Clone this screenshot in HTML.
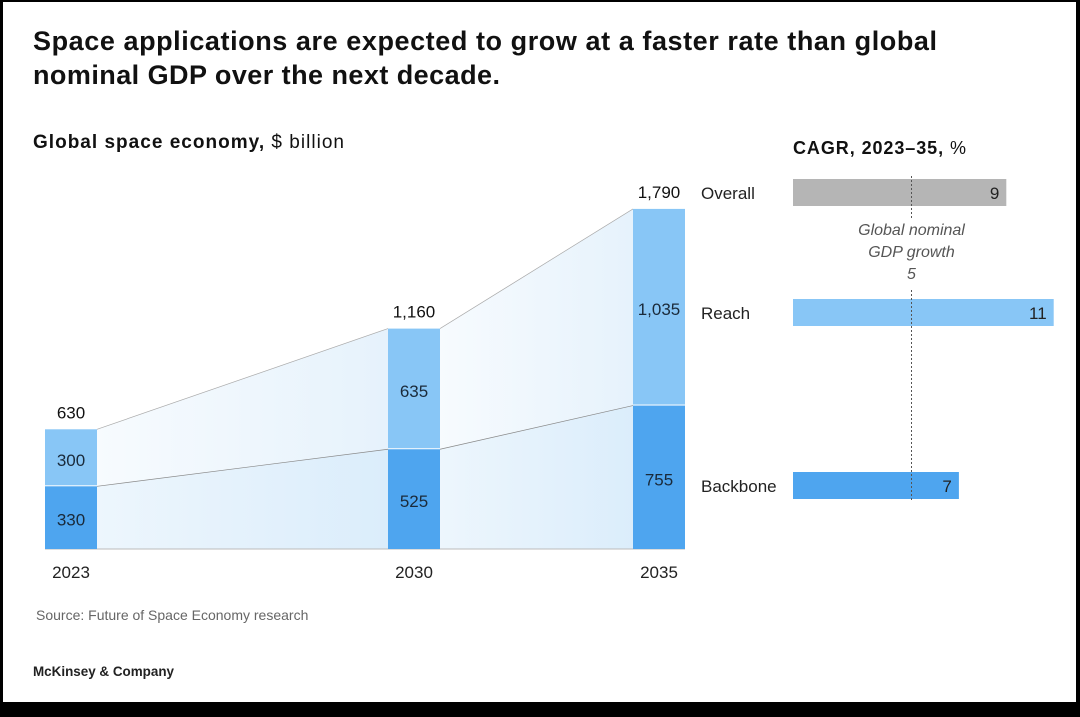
<!DOCTYPE html>
<html><head><meta charset="utf-8"><style>
html,body{margin:0;padding:0;background:#000;}
#wrap{position:absolute;left:3px;top:2px;width:1073px;height:700px;background:#fff;}
svg{position:absolute;left:0;top:0;}
text{font-family:"Liberation Sans",sans-serif;}
</style></head><body>
<div id="wrap"></div>
<svg id="chart" width="1080" height="717">
<text x="33" y="50" font-size="27" font-weight="bold" fill="#111" textLength="904" lengthAdjust="spacing">Space applications are expected to grow at a faster rate than global</text>
<text x="33" y="84" font-size="27" font-weight="bold" fill="#111" textLength="467" lengthAdjust="spacing">nominal GDP over the next decade.</text>
<text x="33" y="148" font-size="19" fill="#111" textLength="311" lengthAdjust="spacing"><tspan font-weight="bold">Global space economy,</tspan> $ billion</text>
<text x="793" y="154" font-size="18" fill="#111" textLength="173" lengthAdjust="spacing"><tspan font-weight="bold">CAGR, 2023–35,</tspan> %</text>
<text x="36" y="620" font-size="14" fill="#666">Source: Future of Space Economy research</text>
<text x="33" y="676" font-size="14" font-weight="bold" fill="#222" textLength="141" lengthAdjust="spacingAndGlyphs">McKinsey &amp; Company</text>
<g id="left"></g><g id="right"></g>
</svg>
<script>
const years = ["2023","2030","2035"];
const backbone = [330,525,755];
const reach = [300,635,1035];
const totals = [630,1160,1790];
const cagrCats = ["Overall","Reach","Backbone"];
const cagrVals = [9,11,7];
const gdpGrowth = 5;

const NS="http://www.w3.org/2000/svg";
function mk(tag,attrs,parent,txt){const e=document.createElementNS(NS,tag);for(const k in attrs)e.setAttribute(k,attrs[k]);if(txt!==undefined)e.textContent=txt;parent.appendChild(e);return e;}
const base=549, sc=0.19;
const y=v=>base-v*sc;
const barX=[45,388,633], bw=52;
const L=document.getElementById('left');
mk('defs',{},L).innerHTML='<linearGradient id="gA" x1="0" x2="1"><stop offset="0" stop-color="#f7fbfe"/><stop offset="1" stop-color="#e6f2fc"/></linearGradient><linearGradient id="gB" x1="0" x2="1"><stop offset="0" stop-color="#edf6fd"/><stop offset="1" stop-color="#dbedfb"/></linearGradient>';
for(let i=0;i<years.length-1;i++){
  const x1=barX[i]+bw,x2=barX[i+1];
  const tb1=y(backbone[i]),tb2=y(backbone[i+1]);
  const tt1=y(backbone[i]+reach[i]),tt2=y(backbone[i+1]+reach[i+1]);
  let p=mk('polygon',{points:`${x1},${tt1} ${x2},${tt2} ${x2},${tb2} ${x1},${tb1}`,fill:'url(#gA)'},L);
  
  p=mk('polygon',{points:`${x1},${tb1} ${x2},${tb2} ${x2},${base} ${x1},${base}`,fill:'url(#gB)'},L);
  
  mk('line',{x1:x1,y1:tt1,x2:x2,y2:tt2,stroke:'#aaa','stroke-width':0.7},L);
  mk('line',{x1:x1,y1:tb1,x2:x2,y2:tb2,stroke:'#888','stroke-width':0.7},L);
}
mk('line',{x1:45,y1:base,x2:685,y2:base,stroke:'#bbb','stroke-width':1},L);
years.forEach((yr,i)=>{
  const x=barX[i];
  let r=mk('rect',{x:x,y:y(backbone[i]),width:bw,height:backbone[i]*sc,fill:'#4ea5ef'},L);
  
  r=mk('rect',{x:x,y:y(backbone[i]+reach[i]),width:bw,height:reach[i]*sc-1,fill:'#88c6f6'},L);
  
  mk('text',{x:x+bw/2,y:(y(backbone[i])+base)/2+8,'font-size':17,'text-anchor':'middle',fill:'#1a2a3a'},L,String(backbone[i]));
  mk('text',{x:x+bw/2,y:(y(backbone[i])+y(backbone[i]+reach[i]))/2+8,'font-size':17,'text-anchor':'middle',fill:'#1a2a3a'},L,reach[i].toLocaleString('en-US'));
  let t=mk('text',{x:x+bw/2,y:y(totals[i])-11,'font-size':17,'text-anchor':'middle',fill:'#111'},L,totals[i].toLocaleString('en-US'));
  
  t=mk('text',{x:x+bw/2,y:578,'font-size':17,'text-anchor':'middle',fill:'#222'},L,yr);
  
});
const R=document.getElementById('right');
const x0=793, cs=23.7;
const rowY=[179,299,472], rh=27;
const cols=['#b5b5b5','#88c6f6','#4ea5ef'];
cagrCats.forEach((c,i)=>{
  let r=mk('rect',{x:x0,y:rowY[i],width:cagrVals[i]*cs,height:rh,fill:cols[i]},R);
  
  mk('text',{x:x0+cagrVals[i]*cs-7,y:rowY[i]+20,'font-size':17,'text-anchor':'end',fill:'#222'},R,String(cagrVals[i]));
  let t=mk('text',{x:701,y:rowY[i]+20,'font-size':17,fill:'#222'},R,c);
  
});
const gx=x0+gdpGrowth*cs;
let gl=mk('line',{x1:gx,y1:176,x2:gx,y2:220,stroke:'#555','stroke-width':1,'stroke-dasharray':'2,2'},R);

mk('line',{x1:gx,y1:290,x2:gx,y2:502,stroke:'#555','stroke-width':1,'stroke-dasharray':'2,2'},R);
mk('text',{x:gx,y:235,'font-size':16,'font-style':'italic','text-anchor':'middle',fill:'#555'},R,'Global nominal');
mk('text',{x:gx,y:257,'font-size':16,'font-style':'italic','text-anchor':'middle',fill:'#555'},R,'GDP growth');
mk('text',{x:gx,y:279,'font-size':16,'font-style':'italic','text-anchor':'middle',fill:'#555'},R,String(gdpGrowth));
</script>
</body></html>
